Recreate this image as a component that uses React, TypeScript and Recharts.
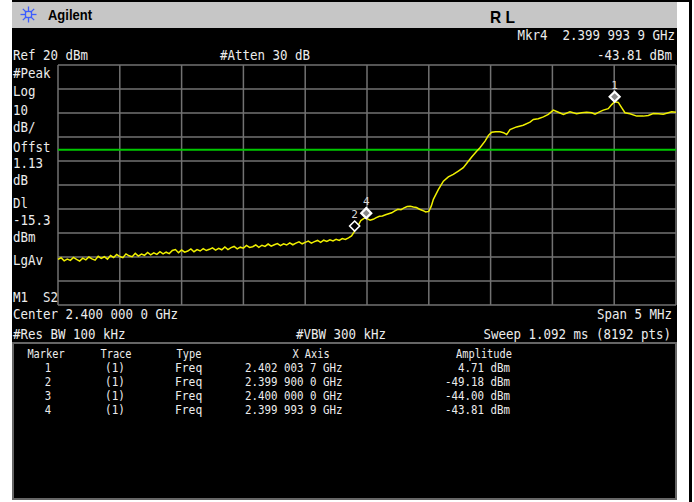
import { Line, LineChart, ReferenceDot, ReferenceLine, XAxis, YAxis } from "recharts";

const refLevelDbm = 20;
const bottomLevelDbm = -80;
const centerGHz = 2.4;
const displayLineDbm = -15.3;

// trace samples: offset from center (MHz) and level (dBm)
const traceOffsetsMHz = [
  -2.5, -2.475, -2.45, -2.425, -2.4, -2.375, -2.35, -2.325, -2.3, -2.275,
  -2.25, -2.225, -2.2, -2.175, -2.15, -2.125, -2.1, -2.075, -2.05, -2.025,
  -2.0, -1.975, -1.95, -1.925, -1.9, -1.875, -1.85, -1.825, -1.8, -1.775,
  -1.75, -1.725, -1.7, -1.675, -1.65, -1.625, -1.6, -1.575, -1.55, -1.525,
  -1.5, -1.475, -1.45, -1.425, -1.4, -1.375, -1.35, -1.325, -1.3, -1.275,
  -1.25, -1.225, -1.2, -1.175, -1.15, -1.125, -1.1, -1.075, -1.05, -1.025,
  -1.0, -0.975, -0.95, -0.925, -0.9, -0.875, -0.85, -0.825, -0.8, -0.775,
  -0.75, -0.725, -0.7, -0.675, -0.65, -0.625, -0.6, -0.575, -0.55, -0.525,
  -0.5, -0.475, -0.45, -0.425, -0.4, -0.375, -0.35, -0.325, -0.3, -0.275,
  -0.25, -0.225, -0.2, -0.175, -0.15, -0.125, -0.1, -0.075, -0.05, -0.025,
  -0.006, 0.0, 0.025, 0.05, 0.075, 0.1, 0.125, 0.15, 0.175, 0.2,
  0.225, 0.25, 0.275, 0.3, 0.325, 0.35, 0.375, 0.4, 0.425, 0.45,
  0.475, 0.5, 0.52, 0.537, 0.577, 0.618, 0.658, 0.698, 0.739, 0.779,
  0.82, 0.847, 0.887, 0.914, 0.955, 0.982, 1.009, 1.04, 1.076, 1.105,
  1.13, 1.157, 1.21, 1.264, 1.319, 1.346, 1.386, 1.427, 1.467, 1.508,
  1.548, 1.589, 1.642, 1.696, 1.737, 1.777, 1.818, 1.845, 1.885, 1.912,
  1.952, 1.98, 2.004, 2.033, 2.06, 2.087, 2.128, 2.182, 2.236, 2.276,
  2.316, 2.357, 2.397, 2.438, 2.465, 2.5,
];
const traceLevelsDbm = [
  -61.0, -60.3, -61.6, -60.9, -61.4, -60.2, -61.0, -61.7, -60.5, -61.2,
  -60.0, -60.8, -61.3, -59.7, -60.6, -59.9, -60.9, -59.4, -60.2, -58.9,
  -59.8, -60.3, -58.7, -59.5, -59.9, -58.5, -59.6, -58.8, -59.3, -58.1,
  -59.1, -58.3, -58.9, -57.8, -58.7, -58.0, -58.6, -57.3, -56.9, -58.2,
  -57.1, -58.0, -57.5, -56.6, -57.8, -56.9, -57.5, -56.5, -57.3, -56.8,
  -56.2, -57.1, -56.4, -57.0, -55.8, -56.9, -56.1, -55.6, -56.6, -55.9,
  -56.3, -55.2, -56.0, -55.7, -55.0, -56.0, -55.1, -55.6, -54.6, -55.5,
  -54.9, -54.4, -55.3, -54.5, -55.0, -54.1, -54.9, -54.2, -53.7, -54.5,
  -53.9, -53.4, -54.2, -53.6, -53.1, -53.9, -53.0, -53.5, -52.8, -53.3,
  -52.6, -53.1, -52.3, -52.7, -52.0, -51.2, -49.2, -47.2, -44.8, -43.9,
  -43.8, -44.0, -44.7, -44.3, -43.6, -43.0, -42.9, -42.4, -42.0, -41.6,
  -40.8, -40.1, -40.3, -39.5, -39.0, -38.9, -39.2, -39.4, -40.1, -40.6,
  -41.2, -41.0, -38.8, -36.0, -31.9, -28.4, -26.6, -25.6, -24.2, -22.8,
  -20.1, -18.3, -15.9, -14.5, -11.7, -9.4, -8.0, -7.8, -7.8, -8.2,
  -9.0, -6.9, -5.8, -5.1, -3.8, -2.7, -2.4, -1.6, -0.6, 1.2,
  0.3, -0.6, 0.5, -0.3, 0.1, 0.3, 0.1, -0.5, 0.6, 1.2,
  1.8, 3.5, 4.7, 4.4, 2.2, 0.1, -0.3, -1.3, -1.3, -1.0,
  -0.2, -0.3, -0.5, 0.1, 0.5, 0.3,
];

const xTicks = [-2.5, -2, -1.5, -1, -0.5, 0, 0.5, 1, 1.5, 2, 2.5];
const yTicks = [-80, -70, -60, -50, -40, -30, -20, -10, 0, 10, 20];

const markerIds = [1, 2, 3, 4];
const markerTraces = ["(1)", "(1)", "(1)", "(1)"];
const markerTypes = ["Freq", "Freq", "Freq", "Freq"];
const markerGHz = [2.4020037, 2.3999, 2.4, 2.3999939];
const markerDbm = [4.71, -49.18, -44.0, -43.81];
const shownMarkers = [1, 2, 4];
const activeMarker = 4;

const leftLabels = ["#Peak", "Log", "10", "dB/", "Offst", "1.13", "dB", "Dl", "-15.3", "dBm", "LgAv", "M1  S2"];
const leftLabelBaselines = [78, 96, 115, 132, 152, 168, 185, 208, 225, 242, 265, 302];

const data = traceOffsetsMHz.map((f, i) => ({ f, level: traceLevelsDbm[i] }));

function fmtGHz(ghz: number) {
  const [whole, frac] = ghz.toFixed(7).split(".");
  return `${whole}.${frac.slice(0, 3)} ${frac.slice(3, 6)} ${frac.slice(6)} GHz`;
}

const mono = "'DejaVu Sans Mono', 'Liberation Mono', monospace";
const textColor = "#ececec";
const gridColor = "#727272";

function T({ x, y, s, anchor = "start", size = 13.5, cw = 7.5, fill = textColor }: any) {
  return (
    <text
      x={x}
      y={y}
      textAnchor={anchor}
      fontSize={size}
      fontFamily={mono}
      fill={fill}
      textLength={s.length * cw}
      lengthAdjust="spacingAndGlyphs"
      xmlSpace="preserve"
      style={{ whiteSpace: "pre" }}
    >
      {s}
    </text>
  );
}

function MarkerShape(props: any) {
  const { cx, cy, id } = props;
  const dy = cy - 5;
  const active = id === activeMarker || id === 1;
  return (
    <g>
      <path
        d={`M${cx},${dy - 5} L${cx + 5},${dy} L${cx},${dy + 5} L${cx - 5},${dy} Z`}
        fill={active ? "#8a8a8a" : "#000"}
        stroke="#fff"
        strokeWidth={active ? 2.2 : 1.6}
      />
      <text x={cx} y={dy - 8} textAnchor="middle" fontSize={11} fontFamily={mono} fill="#d8d8d8">
        {id}
      </text>
    </g>
  );
}

function AgilentIcon() {
  const cx = 28.5;
  const cy = 14.5;
  const rays = [0, 45, 90, 135, 180, 225, 270, 315];
  return (
    <g stroke="#3c5cff" strokeWidth={1.3}>
      {rays.map((a) => {
        const r = (a * Math.PI) / 180;
        return <line key={a} x1={cx + Math.cos(r) * 3} y1={cy + Math.sin(r) * 3} x2={cx + Math.cos(r) * 8} y2={cy + Math.sin(r) * 8} />;
      })}
      <rect x={cx - 3} y={cy - 3} width={6} height={6} fill="none" />
    </g>
  );
}

export default function App() {
  const tableRowBaselines = [372, 386, 400, 414];
  return (
    <div style={{ position: "absolute", left: 0, top: 0, width: 694, height: 502, background: "#fff", overflow: "hidden" }}>
      {/* frame pieces */}
      <div style={{ position: "absolute", left: 12, top: 0, width: 680, height: 2, background: "#000" }} />
      <div style={{ position: "absolute", left: 689, top: 0, width: 3, height: 502, background: "#000" }} />
      <div style={{ position: "absolute", left: 12, top: 2, width: 665, height: 26, background: "#c6c6c6" }} />
      <div style={{ position: "absolute", left: 12, top: 28, width: 665, height: 314, background: "#000" }} />
      <div
        style={{
          position: "absolute",
          left: 12,
          top: 342,
          width: 665,
          height: 158,
          background: "#000",
          border: "2px solid #666",
          boxSizing: "border-box",
        }}
      />

      <div style={{ position: "absolute", left: 0, top: 0 }}>
        <LineChart width={694} height={502} data={data} margin={{ top: 65, right: 18, bottom: 197, left: 58 }}>
          <XAxis
            dataKey="f"
            type="number"
            domain={[xTicks[0], xTicks[xTicks.length - 1]]}
            ticks={xTicks}
            tick={false}
            tickLine={false}
            axisLine={false}
            height={0}
          />
          <YAxis
            type="number"
            domain={[bottomLevelDbm, refLevelDbm]}
            ticks={yTicks}
            tick={false}
            tickLine={false}
            axisLine={false}
            width={0}
          />
          {xTicks.map((t) => (
            <ReferenceLine key={`x${t}`} x={t} stroke={gridColor} strokeWidth={1.5} />
          ))}
          {yTicks.map((t) => (
            <ReferenceLine key={`y${t}`} y={t} stroke={gridColor} strokeWidth={1.5} />
          ))}
          <ReferenceLine y={displayLineDbm} stroke="#00c800" strokeWidth={2} />
          <Line
            dataKey="level"
            type="linear"
            stroke="#f0f000"
            strokeWidth={1.5}
            dot={false}
            isAnimationActive={false}
          />
          {shownMarkers.map((id) => {
            const i = markerIds.indexOf(id);
            return (
              <ReferenceDot
                key={id}
                x={(markerGHz[i] - centerGHz) * 1000}
                y={markerDbm[i]}
                r={5}
                shape={(p: any) => <MarkerShape {...p} id={id} />}
              />
            );
          })}
        </LineChart>
      </div>

      <svg width={694} height={502} style={{ position: "absolute", left: 0, top: 0, pointerEvents: "none" }}>
        <AgilentIcon />
        <text x={48} y={20} fontSize={14} fontWeight="bold" fontFamily="'Liberation Sans', Arial, sans-serif" fill="#000" textLength={44} lengthAdjust="spacingAndGlyphs">
          Agilent
        </text>
        <text x={490} y={23} fontSize={17} fontWeight="bold" fontFamily="'Liberation Sans', Arial, sans-serif" fill="#000" textLength={25} lengthAdjust="spacingAndGlyphs" xmlSpace="preserve" style={{ whiteSpace: "pre" }}>
          R L
        </text>

        <T x={675} y={40} anchor="end" s={`Mkr${activeMarker}  ${fmtGHz(markerGHz[3])}`} />
        <T x={13} y={60} s={`Ref ${refLevelDbm} dBm`} />
        <T x={220} y={60} s="#Atten 30 dB" />
        <T x={672} y={60} anchor="end" s={`${markerDbm[3].toFixed(2)} dBm`} />

        {leftLabels.map((s, i) => (
          <T key={s} x={13} y={leftLabelBaselines[i]} s={s} />
        ))}

        <T x={13} y={319} s={`Center ${fmtGHz(centerGHz)}`} />
        <T x={672} y={319} anchor="end" s="Span 5 MHz" />
        <T x={13} y={339} s="#Res BW 100 kHz" />
        <T x={296} y={339} s="#VBW 300 kHz" />
        <T x={671} y={339} anchor="end" s="Sweep 1.092 ms (8192 pts)" />

        <T x={46} y={358} anchor="middle" size={12} cw={6.2} s="Marker" />
        <T x={116} y={358} anchor="middle" size={12} cw={6.2} s="Trace" />
        <T x={189} y={358} anchor="middle" size={12} cw={6.2} s="Type" />
        <T x={311} y={358} anchor="middle" size={12} cw={6.2} s="X Axis" />
        <T x={484} y={358} anchor="middle" size={12} cw={6.2} s="Amplitude" />
        {markerIds.map((id, i) => (
          <g key={id}>
            <T x={48} y={tableRowBaselines[i]} anchor="middle" size={12} cw={6.4} s={String(id)} />
            <T x={115} y={tableRowBaselines[i]} anchor="middle" size={12} cw={6.6} s={markerTraces[i]} />
            <T x={175} y={tableRowBaselines[i]} size={12} cw={6.8} s={markerTypes[i]} />
            <T x={245} y={tableRowBaselines[i]} size={12} cw={6.5} s={fmtGHz(markerGHz[i])} />
            <T x={510} y={tableRowBaselines[i]} anchor="end" size={12} cw={6.5} s={`${markerDbm[i].toFixed(2)} dBm`} />
          </g>
        ))}
      </svg>
    </div>
  );
}
